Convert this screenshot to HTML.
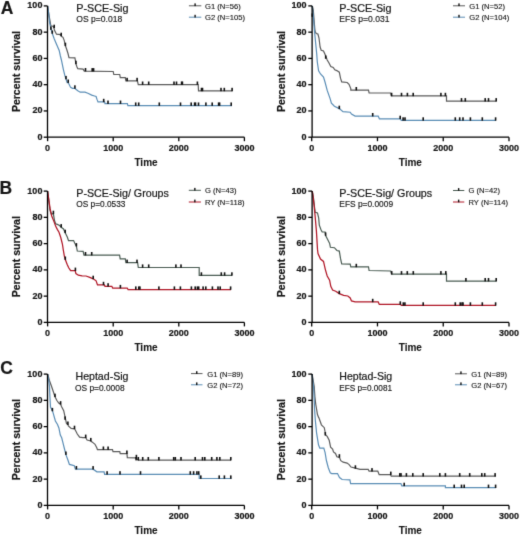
<!DOCTYPE html>
<html><head><meta charset="utf-8"><style>
html,body{margin:0;padding:0;background:#fff;width:520px;height:535px;overflow:hidden}
svg text{font-family:"Liberation Sans", sans-serif}

</style></head><body>
<svg width="520" height="535" viewBox="0 0 520 535" style="display:block">
<defs><filter id="bl" x="0" y="0" width="520" height="535" filterUnits="userSpaceOnUse" primitiveUnits="userSpaceOnUse" color-interpolation-filters="sRGB"><feConvolveMatrix order="3" kernelMatrix="0.01134 0.08382 0.01134 0.08382 0.61935 0.08382 0.01134 0.08382 0.01134" divisor="1" edgeMode="none"/></filter></defs>
<rect width="520" height="535" fill="#ffffff"/>
<g filter="url(#bl)">
<text transform="translate(0.70,13.50) scale(0.970,1)" font-size="18" font-weight="bold" text-anchor="start" fill="#161616"  stroke="#161616" stroke-width="0.2">A</text>
<polyline points="47.60,5.90 48.75,13.75 50.20,22.00 50.80,25.80 53.50,26.50 54.60,30.60 56.50,34.20 60.40,34.60 61.30,36.30 63.00,37.30 64.20,40.40 65.40,45.80 66.50,48.80 68.00,53.50 69.00,57.60 74.90,57.80 75.30,60.00 75.90,63.80 77.00,67.00 77.80,68.70 83.10,69.10 84.30,71.10 113.20,71.50 113.80,74.50 119.70,74.50 120.30,77.60 125.30,77.60 125.90,80.90 137.40,80.90 138.30,84.60 198.20,84.60 198.50,90.90 232.50,90.90" fill="none" stroke="#5a5a5a" stroke-width="1.2" stroke-linejoin="miter"/>
<rect x="53.40" y="24.70" width="1.6" height="3.4" fill="#111111"/>
<rect x="60.40" y="32.70" width="1.6" height="3.4" fill="#111111"/>
<rect x="64.60" y="42.70" width="1.6" height="3.4" fill="#111111"/>
<rect x="75.10" y="60.70" width="1.6" height="3.4" fill="#111111"/>
<rect x="84.70" y="68.00" width="1.6" height="3.4" fill="#111111"/>
<rect x="91.40" y="68.10" width="1.6" height="3.4" fill="#111111"/>
<rect x="92.80" y="68.10" width="1.6" height="3.4" fill="#111111"/>
<rect x="126.30" y="77.80" width="1.6" height="3.4" fill="#111111"/>
<rect x="136.30" y="77.80" width="1.6" height="3.4" fill="#111111"/>
<rect x="141.80" y="81.50" width="1.6" height="3.4" fill="#111111"/>
<rect x="147.90" y="81.50" width="1.6" height="3.4" fill="#111111"/>
<rect x="173.20" y="81.50" width="1.6" height="3.4" fill="#111111"/>
<rect x="175.70" y="81.50" width="1.6" height="3.4" fill="#111111"/>
<rect x="180.80" y="81.50" width="1.6" height="3.4" fill="#111111"/>
<rect x="181.60" y="81.50" width="1.6" height="3.4" fill="#111111"/>
<rect x="196.60" y="81.50" width="1.6" height="3.4" fill="#111111"/>
<rect x="200.70" y="87.80" width="1.6" height="3.4" fill="#111111"/>
<rect x="201.70" y="87.80" width="1.6" height="3.4" fill="#111111"/>
<rect x="220.20" y="87.80" width="1.6" height="3.4" fill="#111111"/>
<rect x="223.50" y="87.80" width="1.6" height="3.4" fill="#111111"/>
<rect x="231.30" y="87.80" width="1.6" height="3.4" fill="#111111"/>
<polyline points="47.60,5.90 48.75,13.75 49.60,22.70 50.80,28.00 52.30,33.50 54.20,38.80 56.50,44.20 59.20,50.40 60.40,56.00 61.40,60.00 63.40,69.60 64.80,75.40 66.00,79.00 67.20,82.60 68.20,82.60 70.60,87.40 72.50,88.40 74.90,88.40 75.90,89.30 77.80,90.80 80.20,92.20 85.00,92.20 87.90,93.20 91.70,95.10 94.50,96.00 96.10,96.50 97.00,99.40 98.00,101.90 104.60,101.90 105.00,103.65 127.40,103.65 127.90,105.55 232.00,105.55" fill="none" stroke="#5a8db5" stroke-width="1.2" stroke-linejoin="miter"/>
<rect x="50.10" y="26.50" width="1.6" height="3.4" fill="#111111"/>
<rect x="51.50" y="30.40" width="1.6" height="3.4" fill="#111111"/>
<rect x="65.20" y="75.90" width="1.6" height="3.4" fill="#111111"/>
<rect x="67.40" y="79.50" width="1.6" height="3.4" fill="#111111"/>
<rect x="74.10" y="85.30" width="1.6" height="3.4" fill="#111111"/>
<rect x="102.90" y="98.80" width="1.6" height="3.4" fill="#111111"/>
<rect x="107.20" y="100.55" width="1.6" height="3.4" fill="#111111"/>
<rect x="119.70" y="100.55" width="1.6" height="3.4" fill="#111111"/>
<rect x="134.90" y="102.45" width="1.6" height="3.4" fill="#111111"/>
<rect x="137.90" y="102.45" width="1.6" height="3.4" fill="#111111"/>
<rect x="158.50" y="102.45" width="1.6" height="3.4" fill="#111111"/>
<rect x="179.70" y="102.45" width="1.6" height="3.4" fill="#111111"/>
<rect x="190.40" y="102.45" width="1.6" height="3.4" fill="#111111"/>
<rect x="193.80" y="102.45" width="1.6" height="3.4" fill="#111111"/>
<rect x="194.70" y="102.45" width="1.6" height="3.4" fill="#111111"/>
<rect x="197.70" y="102.45" width="1.6" height="3.4" fill="#111111"/>
<rect x="205.10" y="102.45" width="1.6" height="3.4" fill="#111111"/>
<rect x="211.40" y="102.45" width="1.6" height="3.4" fill="#111111"/>
<rect x="217.80" y="102.45" width="1.6" height="3.4" fill="#111111"/>
<rect x="218.80" y="102.45" width="1.6" height="3.4" fill="#111111"/>
<rect x="230.40" y="102.45" width="1.6" height="3.4" fill="#111111"/>
<path d="M47.50,5.90 L47.50,137.20 L244.40,137.20" fill="none" stroke="#000000" stroke-width="1.3"/>
<line x1="43.70" y1="137.20" x2="47.50" y2="137.20" stroke="#000000" stroke-width="1.3"/>
<text transform="translate(42.40,139.60)" font-size="9.0" font-weight="bold" text-anchor="end" fill="#161616"  stroke="#161616" stroke-width="0.2">0</text>
<line x1="43.70" y1="110.94" x2="47.50" y2="110.94" stroke="#000000" stroke-width="1.3"/>
<text transform="translate(42.40,113.34)" font-size="9.0" font-weight="bold" text-anchor="end" fill="#161616"  stroke="#161616" stroke-width="0.2">20</text>
<line x1="43.70" y1="84.68" x2="47.50" y2="84.68" stroke="#000000" stroke-width="1.3"/>
<text transform="translate(42.40,87.08)" font-size="9.0" font-weight="bold" text-anchor="end" fill="#161616"  stroke="#161616" stroke-width="0.2">40</text>
<line x1="43.70" y1="58.42" x2="47.50" y2="58.42" stroke="#000000" stroke-width="1.3"/>
<text transform="translate(42.40,60.82)" font-size="9.0" font-weight="bold" text-anchor="end" fill="#161616"  stroke="#161616" stroke-width="0.2">60</text>
<line x1="43.70" y1="32.16" x2="47.50" y2="32.16" stroke="#000000" stroke-width="1.3"/>
<text transform="translate(42.40,34.56)" font-size="9.0" font-weight="bold" text-anchor="end" fill="#161616"  stroke="#161616" stroke-width="0.2">80</text>
<line x1="43.70" y1="5.90" x2="47.50" y2="5.90" stroke="#000000" stroke-width="1.3"/>
<text transform="translate(42.40,8.30)" font-size="9.0" font-weight="bold" text-anchor="end" fill="#161616"  stroke="#161616" stroke-width="0.2">100</text>
<line x1="47.60" y1="137.20" x2="47.60" y2="141.20" stroke="#000000" stroke-width="1.3"/>
<text transform="translate(47.60,150.80)" font-size="9.0" font-weight="bold" text-anchor="middle" fill="#161616"  stroke="#161616" stroke-width="0.2">0</text>
<line x1="113.20" y1="137.20" x2="113.20" y2="141.20" stroke="#000000" stroke-width="1.3"/>
<text transform="translate(113.20,150.80)" font-size="9.0" font-weight="bold" text-anchor="middle" fill="#161616"  stroke="#161616" stroke-width="0.2">1000</text>
<line x1="178.80" y1="137.20" x2="178.80" y2="141.20" stroke="#000000" stroke-width="1.3"/>
<text transform="translate(178.80,150.80)" font-size="9.0" font-weight="bold" text-anchor="middle" fill="#161616"  stroke="#161616" stroke-width="0.2">2000</text>
<line x1="244.40" y1="137.20" x2="244.40" y2="141.20" stroke="#000000" stroke-width="1.3"/>
<text transform="translate(244.40,150.80)" font-size="9.0" font-weight="bold" text-anchor="middle" fill="#161616"  stroke="#161616" stroke-width="0.2">3000</text>
<text transform="translate(146.00,165.70)" font-size="10" font-weight="bold" text-anchor="middle" fill="#161616"  stroke="#161616" stroke-width="0.1">Time</text>
<text transform="translate(20.10,71.55) rotate(-90) scale(1.030,1)" font-size="10.2" font-weight="bold" text-anchor="middle" fill="#161616"  stroke="#161616" stroke-width="0.2">Percent survival</text>
<text transform="translate(76.30,11.50) scale(1.060,1)" font-size="10.2" font-weight="normal" text-anchor="start" fill="#161616"  stroke="#161616" stroke-width="0.2">P-SCE-Sig</text>
<text transform="translate(76.30,21.90) scale(1.020,1)" font-size="8.4" font-weight="normal" text-anchor="start" fill="#161616"  stroke="#161616" stroke-width="0.15">OS p=0.018</text>
<line x1="188.90" y1="5.80" x2="201.30" y2="5.80" stroke="#5a5a5a" stroke-width="1.0"/>
<rect x="194.40" y="3.40" width="1.4" height="2.7" fill="#111111"/>
<text transform="translate(205.00,8.70) scale(1.060,1)" font-size="7.2" font-weight="normal" text-anchor="start" fill="#151515"  stroke="#151515" stroke-width="0.12">G1 (N=56)</text>
<line x1="188.90" y1="17.20" x2="201.30" y2="17.20" stroke="#5a8db5" stroke-width="1.0"/>
<rect x="194.40" y="14.80" width="1.4" height="2.7" fill="#111111"/>
<text transform="translate(205.00,19.90) scale(1.060,1)" font-size="7.2" font-weight="normal" text-anchor="start" fill="#151515"  stroke="#151515" stroke-width="0.12">G2 (N=105)</text>
<polyline points="312.10,5.90 312.60,7.00 313.30,10.40 314.20,21.60 314.80,29.00 315.10,31.20 316.20,33.50 317.90,34.00 319.00,38.00 320.10,47.00 321.20,50.30 323.50,50.90 325.20,54.80 327.20,60.00 329.00,63.00 330.80,66.50 333.20,67.50 334.80,69.80 336.80,70.60 339.30,72.20 340.50,78.20 341.70,81.90 347.20,82.50 349.00,84.30 350.80,88.60 350.80,90.10 368.50,90.10 369.10,92.80 390.70,93.00 391.40,95.90 446.50,95.90 446.50,101.20 496.50,101.20" fill="none" stroke="#5a5a5a" stroke-width="1.2" stroke-linejoin="miter"/>
<rect x="311.50" y="13.40" width="1.6" height="3.4" fill="#111111"/>
<rect x="324.90" y="55.40" width="1.6" height="3.4" fill="#111111"/>
<rect x="355.50" y="87.00" width="1.6" height="3.4" fill="#111111"/>
<rect x="390.80" y="92.80" width="1.6" height="3.4" fill="#111111"/>
<rect x="400.70" y="92.80" width="1.6" height="3.4" fill="#111111"/>
<rect x="406.60" y="92.80" width="1.6" height="3.4" fill="#111111"/>
<rect x="412.40" y="92.80" width="1.6" height="3.4" fill="#111111"/>
<rect x="440.10" y="92.80" width="1.6" height="3.4" fill="#111111"/>
<rect x="444.60" y="92.80" width="1.6" height="3.4" fill="#111111"/>
<rect x="460.70" y="98.10" width="1.6" height="3.4" fill="#111111"/>
<rect x="464.50" y="98.10" width="1.6" height="3.4" fill="#111111"/>
<rect x="484.40" y="98.10" width="1.6" height="3.4" fill="#111111"/>
<rect x="487.70" y="98.10" width="1.6" height="3.4" fill="#111111"/>
<rect x="495.40" y="98.10" width="1.6" height="3.4" fill="#111111"/>
<polyline points="312.10,5.90 312.60,9.00 313.20,15.00 313.80,22.00 314.50,31.20 315.60,42.50 316.70,53.70 317.30,62.00 318.60,70.90 320.50,74.00 323.50,77.00 325.00,82.00 327.20,90.40 330.20,98.90 331.40,103.10 334.40,106.20 339.30,108.60 343.00,111.60 350.20,112.20 351.50,114.10 355.10,116.10 378.20,116.10 379.40,118.80 400.30,118.80 401.30,120.40 496.00,120.40" fill="none" stroke="#5a8db5" stroke-width="1.2" stroke-linejoin="miter"/>
<rect x="338.50" y="105.70" width="1.6" height="3.4" fill="#111111"/>
<rect x="371.90" y="113.00" width="1.6" height="3.4" fill="#111111"/>
<rect x="399.40" y="115.70" width="1.6" height="3.4" fill="#111111"/>
<rect x="402.30" y="117.30" width="1.6" height="3.4" fill="#111111"/>
<rect x="404.20" y="117.30" width="1.6" height="3.4" fill="#111111"/>
<rect x="422.40" y="117.30" width="1.6" height="3.4" fill="#111111"/>
<rect x="454.50" y="117.30" width="1.6" height="3.4" fill="#111111"/>
<rect x="458.90" y="117.30" width="1.6" height="3.4" fill="#111111"/>
<rect x="462.20" y="117.30" width="1.6" height="3.4" fill="#111111"/>
<rect x="469.60" y="117.30" width="1.6" height="3.4" fill="#111111"/>
<rect x="481.50" y="117.30" width="1.6" height="3.4" fill="#111111"/>
<rect x="494.80" y="117.30" width="1.6" height="3.4" fill="#111111"/>
<path d="M312.10,5.90 L312.10,137.20 L509.00,137.20" fill="none" stroke="#000000" stroke-width="1.3"/>
<line x1="308.30" y1="137.20" x2="312.10" y2="137.20" stroke="#000000" stroke-width="1.3"/>
<text transform="translate(306.60,139.60)" font-size="9.0" font-weight="bold" text-anchor="end" fill="#161616"  stroke="#161616" stroke-width="0.2">0</text>
<line x1="308.30" y1="110.94" x2="312.10" y2="110.94" stroke="#000000" stroke-width="1.3"/>
<text transform="translate(306.60,113.34)" font-size="9.0" font-weight="bold" text-anchor="end" fill="#161616"  stroke="#161616" stroke-width="0.2">20</text>
<line x1="308.30" y1="84.68" x2="312.10" y2="84.68" stroke="#000000" stroke-width="1.3"/>
<text transform="translate(306.60,87.08)" font-size="9.0" font-weight="bold" text-anchor="end" fill="#161616"  stroke="#161616" stroke-width="0.2">40</text>
<line x1="308.30" y1="58.42" x2="312.10" y2="58.42" stroke="#000000" stroke-width="1.3"/>
<text transform="translate(306.60,60.82)" font-size="9.0" font-weight="bold" text-anchor="end" fill="#161616"  stroke="#161616" stroke-width="0.2">60</text>
<line x1="308.30" y1="32.16" x2="312.10" y2="32.16" stroke="#000000" stroke-width="1.3"/>
<text transform="translate(306.60,34.56)" font-size="9.0" font-weight="bold" text-anchor="end" fill="#161616"  stroke="#161616" stroke-width="0.2">80</text>
<line x1="308.30" y1="5.90" x2="312.10" y2="5.90" stroke="#000000" stroke-width="1.3"/>
<text transform="translate(306.60,8.30)" font-size="9.0" font-weight="bold" text-anchor="end" fill="#161616"  stroke="#161616" stroke-width="0.2">100</text>
<line x1="311.70" y1="137.20" x2="311.70" y2="141.20" stroke="#000000" stroke-width="1.3"/>
<text transform="translate(311.70,150.80)" font-size="9.0" font-weight="bold" text-anchor="middle" fill="#161616"  stroke="#161616" stroke-width="0.2">0</text>
<line x1="377.47" y1="137.20" x2="377.47" y2="141.20" stroke="#000000" stroke-width="1.3"/>
<text transform="translate(377.47,150.80)" font-size="9.0" font-weight="bold" text-anchor="middle" fill="#161616"  stroke="#161616" stroke-width="0.2">1000</text>
<line x1="443.23" y1="137.20" x2="443.23" y2="141.20" stroke="#000000" stroke-width="1.3"/>
<text transform="translate(443.23,150.80)" font-size="9.0" font-weight="bold" text-anchor="middle" fill="#161616"  stroke="#161616" stroke-width="0.2">2000</text>
<line x1="509.00" y1="137.20" x2="509.00" y2="141.20" stroke="#000000" stroke-width="1.3"/>
<text transform="translate(509.00,150.80)" font-size="9.0" font-weight="bold" text-anchor="middle" fill="#161616"  stroke="#161616" stroke-width="0.2">3000</text>
<text transform="translate(410.35,165.70)" font-size="10" font-weight="bold" text-anchor="middle" fill="#161616"  stroke="#161616" stroke-width="0.1">Time</text>
<text transform="translate(284.70,71.55) rotate(-90) scale(1.030,1)" font-size="10.2" font-weight="bold" text-anchor="middle" fill="#161616"  stroke="#161616" stroke-width="0.2">Percent survival</text>
<text transform="translate(339.30,11.50) scale(1.060,1)" font-size="10.2" font-weight="normal" text-anchor="start" fill="#161616"  stroke="#161616" stroke-width="0.2">P-SCE-Sig</text>
<text transform="translate(339.30,21.90) scale(1.020,1)" font-size="8.4" font-weight="normal" text-anchor="start" fill="#161616"  stroke="#161616" stroke-width="0.15">EFS p=0.031</text>
<line x1="453.00" y1="5.80" x2="465.00" y2="5.80" stroke="#5a5a5a" stroke-width="1.0"/>
<rect x="458.30" y="3.40" width="1.4" height="2.7" fill="#111111"/>
<text transform="translate(469.20,8.70) scale(1.060,1)" font-size="7.2" font-weight="normal" text-anchor="start" fill="#151515"  stroke="#151515" stroke-width="0.12">G1 (N=52)</text>
<line x1="453.00" y1="17.20" x2="465.00" y2="17.20" stroke="#5a8db5" stroke-width="1.0"/>
<rect x="458.30" y="14.80" width="1.4" height="2.7" fill="#111111"/>
<text transform="translate(469.20,19.90) scale(1.060,1)" font-size="7.2" font-weight="normal" text-anchor="start" fill="#151515"  stroke="#151515" stroke-width="0.12">G2 (N=104)</text>
<text transform="translate(-0.40,193.50) scale(0.970,1)" font-size="18" font-weight="bold" text-anchor="start" fill="#161616"  stroke="#161616" stroke-width="0.2">B</text>
<polyline points="47.60,191.10 48.50,198.00 50.00,210.40 51.20,213.80 53.40,213.80 54.50,220.50 55.60,223.80 57.30,224.40 59.60,225.50 61.20,227.20 63.50,228.90 65.20,232.80 67.40,237.30 68.50,240.60 73.60,240.60 74.70,242.90 76.40,246.20 77.30,251.00 83.10,251.40 84.00,255.10 119.60,255.10 120.20,258.80 125.30,258.80 125.90,262.70 137.60,262.70 138.30,267.50 199.20,267.50 199.20,275.40 232.00,275.40" fill="none" stroke="#4a5c53" stroke-width="1.2" stroke-linejoin="miter"/>
<rect x="52.60" y="210.70" width="1.6" height="3.4" fill="#111111"/>
<rect x="60.40" y="224.10" width="1.6" height="3.4" fill="#111111"/>
<rect x="64.40" y="229.70" width="1.6" height="3.4" fill="#111111"/>
<rect x="75.60" y="243.10" width="1.6" height="3.4" fill="#111111"/>
<rect x="84.70" y="252.00" width="1.6" height="3.4" fill="#111111"/>
<rect x="90.90" y="252.00" width="1.6" height="3.4" fill="#111111"/>
<rect x="126.30" y="259.60" width="1.6" height="3.4" fill="#111111"/>
<rect x="136.20" y="259.60" width="1.6" height="3.4" fill="#111111"/>
<rect x="141.80" y="264.40" width="1.6" height="3.4" fill="#111111"/>
<rect x="147.90" y="264.40" width="1.6" height="3.4" fill="#111111"/>
<rect x="175.10" y="264.40" width="1.6" height="3.4" fill="#111111"/>
<rect x="180.20" y="264.40" width="1.6" height="3.4" fill="#111111"/>
<rect x="200.60" y="272.30" width="1.6" height="3.4" fill="#111111"/>
<rect x="220.50" y="272.30" width="1.6" height="3.4" fill="#111111"/>
<rect x="223.80" y="272.30" width="1.6" height="3.4" fill="#111111"/>
<rect x="231.10" y="272.30" width="1.6" height="3.4" fill="#111111"/>
<polyline points="47.60,191.10 48.90,200.30 50.00,208.20 51.70,216.00 54.00,221.60 55.60,226.10 57.30,229.40 59.00,232.20 60.70,237.30 62.40,244.00 63.30,250.00 64.30,255.80 65.30,259.60 67.20,264.40 68.70,267.80 70.60,270.70 75.20,270.70 75.90,273.60 78.30,275.20 82.10,275.80 86.00,276.00 89.80,277.40 93.20,278.80 96.10,280.80 97.50,284.90 104.40,284.90 105.00,286.30 111.80,286.30 112.70,288.00 127.20,288.00 128.10,289.50 231.00,289.50" fill="none" stroke="#b01626" stroke-width="1.25" stroke-linejoin="miter"/>
<rect x="64.50" y="256.50" width="1.6" height="3.4" fill="#111111"/>
<rect x="74.60" y="267.60" width="1.6" height="3.4" fill="#111111"/>
<rect x="92.40" y="275.70" width="1.6" height="3.4" fill="#111111"/>
<rect x="102.70" y="281.80" width="1.6" height="3.4" fill="#111111"/>
<rect x="107.30" y="283.20" width="1.6" height="3.4" fill="#111111"/>
<rect x="119.60" y="284.90" width="1.6" height="3.4" fill="#111111"/>
<rect x="135.00" y="286.40" width="1.6" height="3.4" fill="#111111"/>
<rect x="138.00" y="286.40" width="1.6" height="3.4" fill="#111111"/>
<rect x="139.10" y="286.40" width="1.6" height="3.4" fill="#111111"/>
<rect x="158.10" y="286.40" width="1.6" height="3.4" fill="#111111"/>
<rect x="173.60" y="286.40" width="1.6" height="3.4" fill="#111111"/>
<rect x="179.60" y="286.40" width="1.6" height="3.4" fill="#111111"/>
<rect x="190.60" y="286.40" width="1.6" height="3.4" fill="#111111"/>
<rect x="194.40" y="286.40" width="1.6" height="3.4" fill="#111111"/>
<rect x="196.60" y="286.40" width="1.6" height="3.4" fill="#111111"/>
<rect x="197.90" y="286.40" width="1.6" height="3.4" fill="#111111"/>
<rect x="202.30" y="286.40" width="1.6" height="3.4" fill="#111111"/>
<rect x="205.00" y="286.40" width="1.6" height="3.4" fill="#111111"/>
<rect x="211.60" y="286.40" width="1.6" height="3.4" fill="#111111"/>
<rect x="217.20" y="286.40" width="1.6" height="3.4" fill="#111111"/>
<rect x="219.40" y="286.40" width="1.6" height="3.4" fill="#111111"/>
<rect x="229.80" y="286.40" width="1.6" height="3.4" fill="#111111"/>
<path d="M47.50,191.10 L47.50,322.40 L244.40,322.40" fill="none" stroke="#000000" stroke-width="1.3"/>
<line x1="43.70" y1="322.40" x2="47.50" y2="322.40" stroke="#000000" stroke-width="1.3"/>
<text transform="translate(42.40,324.80)" font-size="9.0" font-weight="bold" text-anchor="end" fill="#161616"  stroke="#161616" stroke-width="0.2">0</text>
<line x1="43.70" y1="296.14" x2="47.50" y2="296.14" stroke="#000000" stroke-width="1.3"/>
<text transform="translate(42.40,298.54)" font-size="9.0" font-weight="bold" text-anchor="end" fill="#161616"  stroke="#161616" stroke-width="0.2">20</text>
<line x1="43.70" y1="269.88" x2="47.50" y2="269.88" stroke="#000000" stroke-width="1.3"/>
<text transform="translate(42.40,272.28)" font-size="9.0" font-weight="bold" text-anchor="end" fill="#161616"  stroke="#161616" stroke-width="0.2">40</text>
<line x1="43.70" y1="243.62" x2="47.50" y2="243.62" stroke="#000000" stroke-width="1.3"/>
<text transform="translate(42.40,246.02)" font-size="9.0" font-weight="bold" text-anchor="end" fill="#161616"  stroke="#161616" stroke-width="0.2">60</text>
<line x1="43.70" y1="217.36" x2="47.50" y2="217.36" stroke="#000000" stroke-width="1.3"/>
<text transform="translate(42.40,219.76)" font-size="9.0" font-weight="bold" text-anchor="end" fill="#161616"  stroke="#161616" stroke-width="0.2">80</text>
<line x1="43.70" y1="191.10" x2="47.50" y2="191.10" stroke="#000000" stroke-width="1.3"/>
<text transform="translate(42.40,193.50)" font-size="9.0" font-weight="bold" text-anchor="end" fill="#161616"  stroke="#161616" stroke-width="0.2">100</text>
<line x1="47.60" y1="322.40" x2="47.60" y2="326.40" stroke="#000000" stroke-width="1.3"/>
<text transform="translate(47.60,336.00)" font-size="9.0" font-weight="bold" text-anchor="middle" fill="#161616"  stroke="#161616" stroke-width="0.2">0</text>
<line x1="113.20" y1="322.40" x2="113.20" y2="326.40" stroke="#000000" stroke-width="1.3"/>
<text transform="translate(113.20,336.00)" font-size="9.0" font-weight="bold" text-anchor="middle" fill="#161616"  stroke="#161616" stroke-width="0.2">1000</text>
<line x1="178.80" y1="322.40" x2="178.80" y2="326.40" stroke="#000000" stroke-width="1.3"/>
<text transform="translate(178.80,336.00)" font-size="9.0" font-weight="bold" text-anchor="middle" fill="#161616"  stroke="#161616" stroke-width="0.2">2000</text>
<line x1="244.40" y1="322.40" x2="244.40" y2="326.40" stroke="#000000" stroke-width="1.3"/>
<text transform="translate(244.40,336.00)" font-size="9.0" font-weight="bold" text-anchor="middle" fill="#161616"  stroke="#161616" stroke-width="0.2">3000</text>
<text transform="translate(146.00,350.90)" font-size="10" font-weight="bold" text-anchor="middle" fill="#161616"  stroke="#161616" stroke-width="0.1">Time</text>
<text transform="translate(20.10,256.75) rotate(-90) scale(1.030,1)" font-size="10.2" font-weight="bold" text-anchor="middle" fill="#161616"  stroke="#161616" stroke-width="0.2">Percent survival</text>
<text transform="translate(76.30,196.70) scale(1.047,1)" font-size="10.2" font-weight="normal" text-anchor="start" fill="#161616"  stroke="#161616" stroke-width="0.2">P-SCE-Sig/ Groups</text>
<text transform="translate(76.30,207.10) scale(0.990,1)" font-size="8.4" font-weight="normal" text-anchor="start" fill="#161616"  stroke="#161616" stroke-width="0.15">OS p=0.0533</text>
<line x1="188.80" y1="190.30" x2="200.90" y2="190.30" stroke="#4a5c53" stroke-width="1.0"/>
<rect x="194.15" y="187.90" width="1.4" height="2.7" fill="#111111"/>
<text transform="translate(204.90,193.30) scale(1.060,1)" font-size="7.2" font-weight="normal" text-anchor="start" fill="#151515"  stroke="#151515" stroke-width="0.12">G (N=43)</text>
<line x1="188.80" y1="202.00" x2="200.90" y2="202.00" stroke="#b01626" stroke-width="1.0"/>
<rect x="194.15" y="199.60" width="1.4" height="2.7" fill="#111111"/>
<text transform="translate(204.90,204.90) scale(1.060,1)" font-size="7.2" font-weight="normal" text-anchor="start" fill="#151515"  stroke="#151515" stroke-width="0.12">RY (N=118)</text>
<polyline points="312.10,191.10 312.60,193.00 313.60,198.75 314.60,207.70 315.20,212.30 317.50,212.90 318.70,218.10 319.30,225.10 321.00,229.70 322.20,232.00 325.10,232.00 325.60,235.50 327.40,239.00 329.70,243.60 330.40,247.30 334.40,247.70 336.90,250.50 339.30,251.10 340.50,258.40 341.70,263.80 350.20,264.20 350.80,266.90 368.50,266.90 369.10,270.50 390.70,271.00 391.70,274.20 446.50,274.20 446.50,281.10 496.50,281.10" fill="none" stroke="#4a5c53" stroke-width="1.2" stroke-linejoin="miter"/>
<rect x="324.80" y="232.40" width="1.6" height="3.4" fill="#111111"/>
<rect x="355.50" y="263.80" width="1.6" height="3.4" fill="#111111"/>
<rect x="390.90" y="271.10" width="1.6" height="3.4" fill="#111111"/>
<rect x="400.70" y="271.10" width="1.6" height="3.4" fill="#111111"/>
<rect x="406.50" y="271.10" width="1.6" height="3.4" fill="#111111"/>
<rect x="412.50" y="271.10" width="1.6" height="3.4" fill="#111111"/>
<rect x="440.10" y="271.10" width="1.6" height="3.4" fill="#111111"/>
<rect x="445.00" y="271.10" width="1.6" height="3.4" fill="#111111"/>
<rect x="465.10" y="278.00" width="1.6" height="3.4" fill="#111111"/>
<rect x="484.40" y="278.00" width="1.6" height="3.4" fill="#111111"/>
<rect x="487.70" y="278.00" width="1.6" height="3.4" fill="#111111"/>
<rect x="495.40" y="278.00" width="1.6" height="3.4" fill="#111111"/>
<polyline points="312.10,191.10 312.60,193.00 314.10,205.40 315.20,217.00 316.40,230.90 317.50,249.40 318.00,253.50 320.50,259.00 323.50,261.40 325.30,269.30 327.20,276.00 329.60,280.20 330.80,286.30 332.60,290.00 335.70,291.20 339.30,293.60 343.60,295.40 347.80,296.00 350.20,297.90 351.50,300.90 355.10,301.90 378.20,301.90 379.30,304.40 400.60,304.40 401.30,305.40 496.00,305.40" fill="none" stroke="#b01626" stroke-width="1.25" stroke-linejoin="miter"/>
<rect x="338.50" y="290.70" width="1.6" height="3.4" fill="#111111"/>
<rect x="371.90" y="298.80" width="1.6" height="3.4" fill="#111111"/>
<rect x="399.50" y="301.30" width="1.6" height="3.4" fill="#111111"/>
<rect x="402.50" y="302.30" width="1.6" height="3.4" fill="#111111"/>
<rect x="404.10" y="302.30" width="1.6" height="3.4" fill="#111111"/>
<rect x="422.40" y="302.30" width="1.6" height="3.4" fill="#111111"/>
<rect x="454.50" y="302.30" width="1.6" height="3.4" fill="#111111"/>
<rect x="459.40" y="302.30" width="1.6" height="3.4" fill="#111111"/>
<rect x="461.20" y="302.30" width="1.6" height="3.4" fill="#111111"/>
<rect x="462.20" y="302.30" width="1.6" height="3.4" fill="#111111"/>
<rect x="469.60" y="302.30" width="1.6" height="3.4" fill="#111111"/>
<rect x="481.50" y="302.30" width="1.6" height="3.4" fill="#111111"/>
<rect x="494.80" y="302.30" width="1.6" height="3.4" fill="#111111"/>
<path d="M312.10,191.10 L312.10,322.40 L509.00,322.40" fill="none" stroke="#000000" stroke-width="1.3"/>
<line x1="308.30" y1="322.40" x2="312.10" y2="322.40" stroke="#000000" stroke-width="1.3"/>
<text transform="translate(306.60,324.80)" font-size="9.0" font-weight="bold" text-anchor="end" fill="#161616"  stroke="#161616" stroke-width="0.2">0</text>
<line x1="308.30" y1="296.14" x2="312.10" y2="296.14" stroke="#000000" stroke-width="1.3"/>
<text transform="translate(306.60,298.54)" font-size="9.0" font-weight="bold" text-anchor="end" fill="#161616"  stroke="#161616" stroke-width="0.2">20</text>
<line x1="308.30" y1="269.88" x2="312.10" y2="269.88" stroke="#000000" stroke-width="1.3"/>
<text transform="translate(306.60,272.28)" font-size="9.0" font-weight="bold" text-anchor="end" fill="#161616"  stroke="#161616" stroke-width="0.2">40</text>
<line x1="308.30" y1="243.62" x2="312.10" y2="243.62" stroke="#000000" stroke-width="1.3"/>
<text transform="translate(306.60,246.02)" font-size="9.0" font-weight="bold" text-anchor="end" fill="#161616"  stroke="#161616" stroke-width="0.2">60</text>
<line x1="308.30" y1="217.36" x2="312.10" y2="217.36" stroke="#000000" stroke-width="1.3"/>
<text transform="translate(306.60,219.76)" font-size="9.0" font-weight="bold" text-anchor="end" fill="#161616"  stroke="#161616" stroke-width="0.2">80</text>
<line x1="308.30" y1="191.10" x2="312.10" y2="191.10" stroke="#000000" stroke-width="1.3"/>
<text transform="translate(306.60,193.50)" font-size="9.0" font-weight="bold" text-anchor="end" fill="#161616"  stroke="#161616" stroke-width="0.2">100</text>
<line x1="311.70" y1="322.40" x2="311.70" y2="326.40" stroke="#000000" stroke-width="1.3"/>
<text transform="translate(311.70,336.00)" font-size="9.0" font-weight="bold" text-anchor="middle" fill="#161616"  stroke="#161616" stroke-width="0.2">0</text>
<line x1="377.47" y1="322.40" x2="377.47" y2="326.40" stroke="#000000" stroke-width="1.3"/>
<text transform="translate(377.47,336.00)" font-size="9.0" font-weight="bold" text-anchor="middle" fill="#161616"  stroke="#161616" stroke-width="0.2">1000</text>
<line x1="443.23" y1="322.40" x2="443.23" y2="326.40" stroke="#000000" stroke-width="1.3"/>
<text transform="translate(443.23,336.00)" font-size="9.0" font-weight="bold" text-anchor="middle" fill="#161616"  stroke="#161616" stroke-width="0.2">2000</text>
<line x1="509.00" y1="322.40" x2="509.00" y2="326.40" stroke="#000000" stroke-width="1.3"/>
<text transform="translate(509.00,336.00)" font-size="9.0" font-weight="bold" text-anchor="middle" fill="#161616"  stroke="#161616" stroke-width="0.2">3000</text>
<text transform="translate(410.35,350.90)" font-size="10" font-weight="bold" text-anchor="middle" fill="#161616"  stroke="#161616" stroke-width="0.1">Time</text>
<text transform="translate(284.70,256.75) rotate(-90) scale(1.030,1)" font-size="10.2" font-weight="bold" text-anchor="middle" fill="#161616"  stroke="#161616" stroke-width="0.2">Percent survival</text>
<text transform="translate(339.30,196.70) scale(1.052,1)" font-size="10.2" font-weight="normal" text-anchor="start" fill="#161616"  stroke="#161616" stroke-width="0.2">P-SCE-Sig/ Groups</text>
<text transform="translate(339.30,207.10) scale(0.999,1)" font-size="8.4" font-weight="normal" text-anchor="start" fill="#161616"  stroke="#161616" stroke-width="0.15">EFS p=0.0009</text>
<line x1="453.00" y1="190.50" x2="464.30" y2="190.50" stroke="#4a5c53" stroke-width="1.0"/>
<rect x="457.95" y="188.10" width="1.4" height="2.7" fill="#111111"/>
<text transform="translate(468.50,193.30) scale(1.060,1)" font-size="7.2" font-weight="normal" text-anchor="start" fill="#151515"  stroke="#151515" stroke-width="0.12">G (N=42)</text>
<line x1="453.00" y1="202.00" x2="464.30" y2="202.00" stroke="#b01626" stroke-width="1.0"/>
<rect x="457.95" y="199.60" width="1.4" height="2.7" fill="#111111"/>
<text transform="translate(468.50,204.90) scale(1.060,1)" font-size="7.2" font-weight="normal" text-anchor="start" fill="#151515"  stroke="#151515" stroke-width="0.12">RY (N=114)</text>
<text transform="translate(0.20,374.30) scale(0.970,1)" font-size="18" font-weight="bold" text-anchor="start" fill="#161616"  stroke="#161616" stroke-width="0.2">C</text>
<polyline points="47.75,374.10 49.40,380.50 51.25,385.50 52.50,389.25 53.75,393.00 55.00,396.75 56.90,400.50 58.75,403.00 60.60,404.25 61.50,406.50 63.70,410.60 65.10,417.10 66.50,423.70 67.90,424.60 68.40,426.00 71.20,428.40 74.50,428.80 75.40,430.20 77.30,434.00 79.60,437.20 82.90,437.70 85.70,437.70 87.10,440.00 90.80,441.00 92.70,442.40 95.00,444.30 96.90,448.00 97.40,449.60 112.50,449.60 113.00,451.60 119.80,451.60 120.20,453.60 127.00,453.60 127.30,457.60 135.40,457.90 138.30,460.10 231.00,460.10" fill="none" stroke="#5a5a5a" stroke-width="1.2" stroke-linejoin="miter"/>
<rect x="54.20" y="393.65" width="1.6" height="3.4" fill="#111111"/>
<rect x="59.80" y="401.15" width="1.6" height="3.4" fill="#111111"/>
<rect x="64.30" y="416.40" width="1.6" height="3.4" fill="#111111"/>
<rect x="67.10" y="421.50" width="1.6" height="3.4" fill="#111111"/>
<rect x="73.70" y="425.70" width="1.6" height="3.4" fill="#111111"/>
<rect x="84.90" y="434.60" width="1.6" height="3.4" fill="#111111"/>
<rect x="90.00" y="437.90" width="1.6" height="3.4" fill="#111111"/>
<rect x="102.60" y="446.50" width="1.6" height="3.4" fill="#111111"/>
<rect x="107.30" y="446.50" width="1.6" height="3.4" fill="#111111"/>
<rect x="126.10" y="450.50" width="1.6" height="3.4" fill="#111111"/>
<rect x="135.60" y="454.80" width="1.6" height="3.4" fill="#111111"/>
<rect x="135.30" y="457.00" width="1.6" height="3.4" fill="#111111"/>
<rect x="137.50" y="457.00" width="1.6" height="3.4" fill="#111111"/>
<rect x="141.90" y="457.00" width="1.6" height="3.4" fill="#111111"/>
<rect x="147.50" y="457.00" width="1.6" height="3.4" fill="#111111"/>
<rect x="158.10" y="457.00" width="1.6" height="3.4" fill="#111111"/>
<rect x="172.90" y="457.00" width="1.6" height="3.4" fill="#111111"/>
<rect x="174.50" y="457.00" width="1.6" height="3.4" fill="#111111"/>
<rect x="180.20" y="457.00" width="1.6" height="3.4" fill="#111111"/>
<rect x="194.40" y="457.00" width="1.6" height="3.4" fill="#111111"/>
<rect x="201.70" y="457.00" width="1.6" height="3.4" fill="#111111"/>
<rect x="204.00" y="457.00" width="1.6" height="3.4" fill="#111111"/>
<rect x="210.90" y="457.00" width="1.6" height="3.4" fill="#111111"/>
<rect x="216.10" y="457.00" width="1.6" height="3.4" fill="#111111"/>
<rect x="219.00" y="457.00" width="1.6" height="3.4" fill="#111111"/>
<rect x="230.00" y="457.00" width="1.6" height="3.4" fill="#111111"/>
<polyline points="47.60,374.10 48.75,380.50 49.50,386.75 49.90,396.75 50.50,407.00 52.60,411.20 55.40,421.00 57.50,424.50 58.90,428.00 60.30,435.00 61.70,437.80 63.10,443.40 64.50,449.00 65.90,454.60 68.00,460.20 69.40,464.40 72.20,465.10 74.30,465.80 75.40,469.10 93.10,469.20 96.90,471.80 104.10,471.80 104.60,474.30 199.20,474.30 199.20,478.50 231.50,478.50" fill="none" stroke="#5a8db5" stroke-width="1.2" stroke-linejoin="miter"/>
<rect x="51.60" y="407.90" width="1.6" height="3.4" fill="#111111"/>
<rect x="65.10" y="451.50" width="1.6" height="3.4" fill="#111111"/>
<rect x="75.60" y="466.00" width="1.6" height="3.4" fill="#111111"/>
<rect x="92.30" y="466.10" width="1.6" height="3.4" fill="#111111"/>
<rect x="106.30" y="471.20" width="1.6" height="3.4" fill="#111111"/>
<rect x="119.20" y="471.20" width="1.6" height="3.4" fill="#111111"/>
<rect x="139.70" y="471.20" width="1.6" height="3.4" fill="#111111"/>
<rect x="189.50" y="471.20" width="1.6" height="3.4" fill="#111111"/>
<rect x="192.80" y="471.20" width="1.6" height="3.4" fill="#111111"/>
<rect x="196.10" y="471.20" width="1.6" height="3.4" fill="#111111"/>
<rect x="197.90" y="471.20" width="1.6" height="3.4" fill="#111111"/>
<rect x="200.00" y="475.40" width="1.6" height="3.4" fill="#111111"/>
<rect x="218.40" y="475.40" width="1.6" height="3.4" fill="#111111"/>
<rect x="223.60" y="475.40" width="1.6" height="3.4" fill="#111111"/>
<rect x="230.00" y="475.40" width="1.6" height="3.4" fill="#111111"/>
<path d="M47.50,374.10 L47.50,505.40 L244.40,505.40" fill="none" stroke="#000000" stroke-width="1.3"/>
<line x1="43.70" y1="505.40" x2="47.50" y2="505.40" stroke="#000000" stroke-width="1.3"/>
<text transform="translate(42.40,507.80)" font-size="9.0" font-weight="bold" text-anchor="end" fill="#161616"  stroke="#161616" stroke-width="0.2">0</text>
<line x1="43.70" y1="479.14" x2="47.50" y2="479.14" stroke="#000000" stroke-width="1.3"/>
<text transform="translate(42.40,481.54)" font-size="9.0" font-weight="bold" text-anchor="end" fill="#161616"  stroke="#161616" stroke-width="0.2">20</text>
<line x1="43.70" y1="452.88" x2="47.50" y2="452.88" stroke="#000000" stroke-width="1.3"/>
<text transform="translate(42.40,455.28)" font-size="9.0" font-weight="bold" text-anchor="end" fill="#161616"  stroke="#161616" stroke-width="0.2">40</text>
<line x1="43.70" y1="426.62" x2="47.50" y2="426.62" stroke="#000000" stroke-width="1.3"/>
<text transform="translate(42.40,429.02)" font-size="9.0" font-weight="bold" text-anchor="end" fill="#161616"  stroke="#161616" stroke-width="0.2">60</text>
<line x1="43.70" y1="400.36" x2="47.50" y2="400.36" stroke="#000000" stroke-width="1.3"/>
<text transform="translate(42.40,402.76)" font-size="9.0" font-weight="bold" text-anchor="end" fill="#161616"  stroke="#161616" stroke-width="0.2">80</text>
<line x1="43.70" y1="374.10" x2="47.50" y2="374.10" stroke="#000000" stroke-width="1.3"/>
<text transform="translate(42.40,376.50)" font-size="9.0" font-weight="bold" text-anchor="end" fill="#161616"  stroke="#161616" stroke-width="0.2">100</text>
<line x1="47.60" y1="505.40" x2="47.60" y2="509.40" stroke="#000000" stroke-width="1.3"/>
<text transform="translate(47.60,519.00)" font-size="9.0" font-weight="bold" text-anchor="middle" fill="#161616"  stroke="#161616" stroke-width="0.2">0</text>
<line x1="113.20" y1="505.40" x2="113.20" y2="509.40" stroke="#000000" stroke-width="1.3"/>
<text transform="translate(113.20,519.00)" font-size="9.0" font-weight="bold" text-anchor="middle" fill="#161616"  stroke="#161616" stroke-width="0.2">1000</text>
<line x1="178.80" y1="505.40" x2="178.80" y2="509.40" stroke="#000000" stroke-width="1.3"/>
<text transform="translate(178.80,519.00)" font-size="9.0" font-weight="bold" text-anchor="middle" fill="#161616"  stroke="#161616" stroke-width="0.2">2000</text>
<line x1="244.40" y1="505.40" x2="244.40" y2="509.40" stroke="#000000" stroke-width="1.3"/>
<text transform="translate(244.40,519.00)" font-size="9.0" font-weight="bold" text-anchor="middle" fill="#161616"  stroke="#161616" stroke-width="0.2">3000</text>
<text transform="translate(146.00,533.90)" font-size="10" font-weight="bold" text-anchor="middle" fill="#161616"  stroke="#161616" stroke-width="0.1">Time</text>
<text transform="translate(20.10,439.75) rotate(-90) scale(1.030,1)" font-size="10.2" font-weight="bold" text-anchor="middle" fill="#161616"  stroke="#161616" stroke-width="0.2">Percent survival</text>
<text transform="translate(75.50,379.70) scale(1.040,1)" font-size="10.2" font-weight="normal" text-anchor="start" fill="#161616"  stroke="#161616" stroke-width="0.2">Heptad-Sig</text>
<text transform="translate(75.00,390.60) scale(0.998,1)" font-size="8.4" font-weight="normal" text-anchor="start" fill="#161616"  stroke="#161616" stroke-width="0.15">OS p=0.0008</text>
<line x1="191.00" y1="373.60" x2="202.50" y2="373.60" stroke="#5a5a5a" stroke-width="1.0"/>
<rect x="196.05" y="371.20" width="1.4" height="2.7" fill="#111111"/>
<text transform="translate(207.20,376.50) scale(1.060,1)" font-size="7.2" font-weight="normal" text-anchor="start" fill="#151515"  stroke="#151515" stroke-width="0.12">G1 (N=89)</text>
<line x1="191.00" y1="384.80" x2="202.50" y2="384.80" stroke="#5a8db5" stroke-width="1.0"/>
<rect x="196.05" y="382.40" width="1.4" height="2.7" fill="#111111"/>
<text transform="translate(207.20,387.70) scale(1.060,1)" font-size="7.2" font-weight="normal" text-anchor="start" fill="#151515"  stroke="#151515" stroke-width="0.12">G2 (N=72)</text>
<polyline points="312.10,374.10 313.00,379.25 314.25,386.75 314.90,396.75 315.75,404.25 316.40,408.00 317.40,414.25 318.60,417.40 319.00,418.00 321.40,424.80 324.30,427.70 325.30,433.00 325.60,435.00 327.20,436.40 329.20,440.30 330.60,447.10 332.60,449.10 333.50,452.00 335.50,453.40 336.90,456.80 339.40,457.30 340.80,460.70 343.20,462.20 347.10,463.10 349.10,464.60 351.00,467.00 355.40,468.20 360.00,469.40 368.20,469.40 369.10,471.20 377.80,471.20 379.20,474.70 390.30,474.70 391.30,476.20 496.00,476.20" fill="none" stroke="#5a5a5a" stroke-width="1.2" stroke-linejoin="miter"/>
<rect x="324.50" y="432.10" width="1.6" height="3.4" fill="#111111"/>
<rect x="338.60" y="454.20" width="1.6" height="3.4" fill="#111111"/>
<rect x="354.60" y="465.30" width="1.6" height="3.4" fill="#111111"/>
<rect x="371.20" y="468.10" width="1.6" height="3.4" fill="#111111"/>
<rect x="390.00" y="471.60" width="1.6" height="3.4" fill="#111111"/>
<rect x="399.00" y="473.10" width="1.6" height="3.4" fill="#111111"/>
<rect x="400.20" y="473.10" width="1.6" height="3.4" fill="#111111"/>
<rect x="405.60" y="473.10" width="1.6" height="3.4" fill="#111111"/>
<rect x="412.00" y="473.10" width="1.6" height="3.4" fill="#111111"/>
<rect x="422.40" y="473.10" width="1.6" height="3.4" fill="#111111"/>
<rect x="439.00" y="473.10" width="1.6" height="3.4" fill="#111111"/>
<rect x="444.60" y="473.10" width="1.6" height="3.4" fill="#111111"/>
<rect x="458.90" y="473.10" width="1.6" height="3.4" fill="#111111"/>
<rect x="468.90" y="473.10" width="1.6" height="3.4" fill="#111111"/>
<rect x="481.00" y="473.10" width="1.6" height="3.4" fill="#111111"/>
<rect x="483.90" y="473.10" width="1.6" height="3.4" fill="#111111"/>
<rect x="494.30" y="473.10" width="1.6" height="3.4" fill="#111111"/>
<polyline points="312.10,374.10 312.75,380.50 313.60,386.75 314.20,399.25 314.60,410.00 315.30,420.00 316.60,433.10 318.50,444.80 319.80,448.10 323.80,448.10 325.10,452.70 326.40,460.50 328.30,467.70 330.30,472.90 331.60,473.60 337.50,473.60 339.50,477.50 342.10,479.50 349.90,479.90 350.60,483.60 400.90,483.60 401.80,485.80 445.40,485.80 445.40,487.70 496.00,487.70" fill="none" stroke="#5a8db5" stroke-width="1.2" stroke-linejoin="miter"/>
<rect x="403.40" y="482.70" width="1.6" height="3.4" fill="#111111"/>
<rect x="453.40" y="484.60" width="1.6" height="3.4" fill="#111111"/>
<rect x="460.70" y="484.60" width="1.6" height="3.4" fill="#111111"/>
<rect x="463.40" y="484.60" width="1.6" height="3.4" fill="#111111"/>
<rect x="487.70" y="484.60" width="1.6" height="3.4" fill="#111111"/>
<rect x="494.80" y="484.60" width="1.6" height="3.4" fill="#111111"/>
<path d="M312.10,374.10 L312.10,505.40 L509.00,505.40" fill="none" stroke="#000000" stroke-width="1.3"/>
<line x1="308.30" y1="505.40" x2="312.10" y2="505.40" stroke="#000000" stroke-width="1.3"/>
<text transform="translate(306.60,507.80)" font-size="9.0" font-weight="bold" text-anchor="end" fill="#161616"  stroke="#161616" stroke-width="0.2">0</text>
<line x1="308.30" y1="479.14" x2="312.10" y2="479.14" stroke="#000000" stroke-width="1.3"/>
<text transform="translate(306.60,481.54)" font-size="9.0" font-weight="bold" text-anchor="end" fill="#161616"  stroke="#161616" stroke-width="0.2">20</text>
<line x1="308.30" y1="452.88" x2="312.10" y2="452.88" stroke="#000000" stroke-width="1.3"/>
<text transform="translate(306.60,455.28)" font-size="9.0" font-weight="bold" text-anchor="end" fill="#161616"  stroke="#161616" stroke-width="0.2">40</text>
<line x1="308.30" y1="426.62" x2="312.10" y2="426.62" stroke="#000000" stroke-width="1.3"/>
<text transform="translate(306.60,429.02)" font-size="9.0" font-weight="bold" text-anchor="end" fill="#161616"  stroke="#161616" stroke-width="0.2">60</text>
<line x1="308.30" y1="400.36" x2="312.10" y2="400.36" stroke="#000000" stroke-width="1.3"/>
<text transform="translate(306.60,402.76)" font-size="9.0" font-weight="bold" text-anchor="end" fill="#161616"  stroke="#161616" stroke-width="0.2">80</text>
<line x1="308.30" y1="374.10" x2="312.10" y2="374.10" stroke="#000000" stroke-width="1.3"/>
<text transform="translate(306.60,376.50)" font-size="9.0" font-weight="bold" text-anchor="end" fill="#161616"  stroke="#161616" stroke-width="0.2">100</text>
<line x1="311.70" y1="505.40" x2="311.70" y2="509.40" stroke="#000000" stroke-width="1.3"/>
<text transform="translate(311.70,519.00)" font-size="9.0" font-weight="bold" text-anchor="middle" fill="#161616"  stroke="#161616" stroke-width="0.2">0</text>
<line x1="377.47" y1="505.40" x2="377.47" y2="509.40" stroke="#000000" stroke-width="1.3"/>
<text transform="translate(377.47,519.00)" font-size="9.0" font-weight="bold" text-anchor="middle" fill="#161616"  stroke="#161616" stroke-width="0.2">1000</text>
<line x1="443.23" y1="505.40" x2="443.23" y2="509.40" stroke="#000000" stroke-width="1.3"/>
<text transform="translate(443.23,519.00)" font-size="9.0" font-weight="bold" text-anchor="middle" fill="#161616"  stroke="#161616" stroke-width="0.2">2000</text>
<line x1="509.00" y1="505.40" x2="509.00" y2="509.40" stroke="#000000" stroke-width="1.3"/>
<text transform="translate(509.00,519.00)" font-size="9.0" font-weight="bold" text-anchor="middle" fill="#161616"  stroke="#161616" stroke-width="0.2">3000</text>
<text transform="translate(410.35,533.90)" font-size="10" font-weight="bold" text-anchor="middle" fill="#161616"  stroke="#161616" stroke-width="0.1">Time</text>
<text transform="translate(284.70,439.75) rotate(-90) scale(1.030,1)" font-size="10.2" font-weight="bold" text-anchor="middle" fill="#161616"  stroke="#161616" stroke-width="0.2">Percent survival</text>
<text transform="translate(339.30,379.70) scale(1.038,1)" font-size="10.2" font-weight="normal" text-anchor="start" fill="#161616"  stroke="#161616" stroke-width="0.2">Heptad-Sig</text>
<text transform="translate(339.30,390.60) scale(0.980,1)" font-size="8.4" font-weight="normal" text-anchor="start" fill="#161616"  stroke="#161616" stroke-width="0.15">EFS p=0.0081</text>
<line x1="455.00" y1="373.80" x2="466.90" y2="373.80" stroke="#5a5a5a" stroke-width="1.0"/>
<rect x="460.25" y="371.40" width="1.4" height="2.7" fill="#111111"/>
<text transform="translate(471.20,376.50) scale(1.060,1)" font-size="7.2" font-weight="normal" text-anchor="start" fill="#151515"  stroke="#151515" stroke-width="0.12">G1 (N=89)</text>
<line x1="455.00" y1="384.80" x2="466.90" y2="384.80" stroke="#5a8db5" stroke-width="1.0"/>
<rect x="460.25" y="382.40" width="1.4" height="2.7" fill="#111111"/>
<text transform="translate(471.20,387.70) scale(1.060,1)" font-size="7.2" font-weight="normal" text-anchor="start" fill="#151515"  stroke="#151515" stroke-width="0.12">G2 (N=67)</text>
</g>
</svg>
</body></html>
